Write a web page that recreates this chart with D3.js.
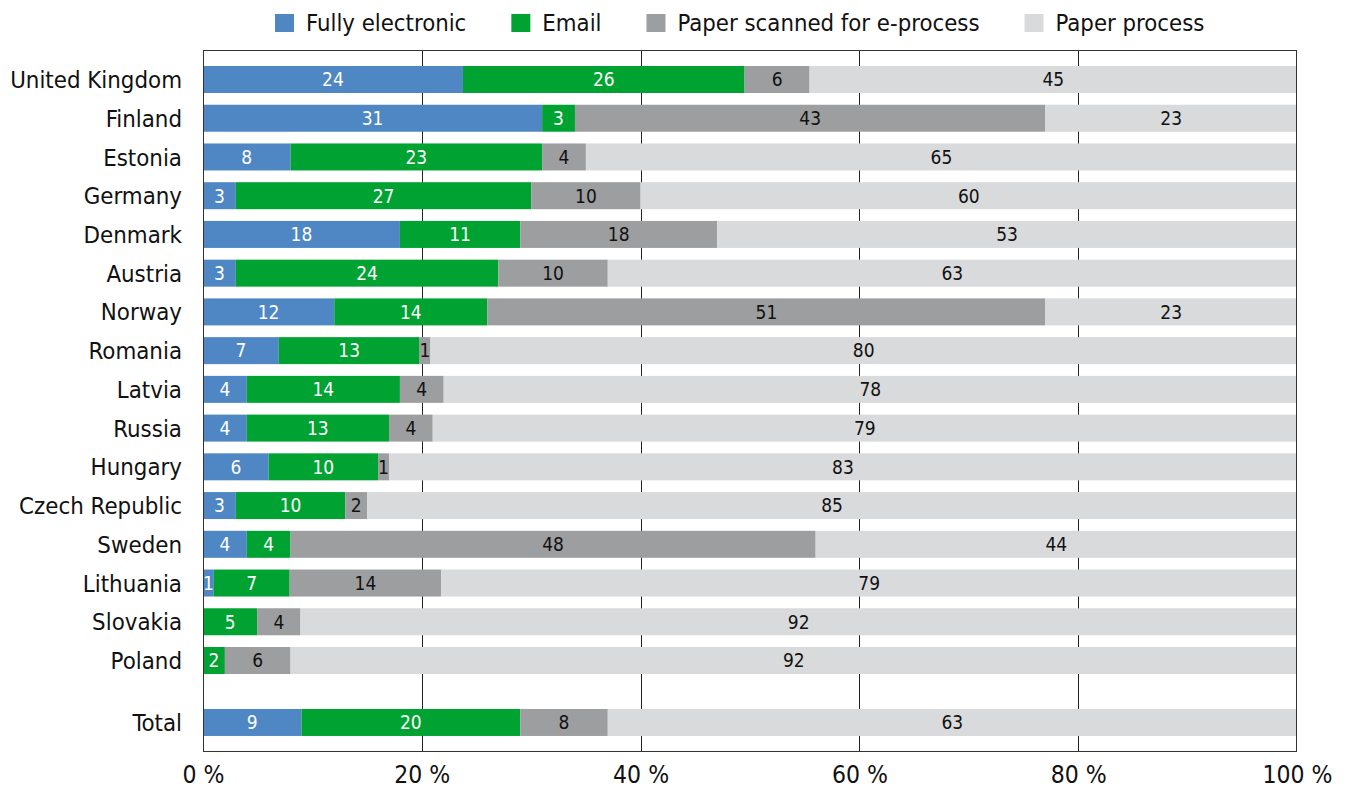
<!DOCTYPE html>
<html>
<head>
<meta charset="utf-8">
<script src="https://cdn.jsdelivr.net/npm/d3@7"></script>
<style>
  html, body { margin: 0; padding: 0; background: #fff; }
  svg { display: block; }
  text { font-family: "Liberation Sans Narrow", "Arial Narrow", "DejaVu Sans Condensed", sans-serif; }
</style>
</head>
<body>
<svg id="chart" width="1346" height="791"></svg>
<script>
// Share of invoices by processing method, per country (percent)
const countries = ["United Kingdom", "Finland", "Estonia", "Germany", "Denmark", "Austria",
  "Norway", "Romania", "Latvia", "Russia", "Hungary", "Czech Republic", "Sweden",
  "Lithuania", "Slovakia", "Poland", "Total"];
const fullyElectronic = [24, 31, 8, 3, 18, 3, 12, 7, 4, 4, 6, 3, 4, 1, 0, 0, 9];
const email           = [26, 3, 23, 27, 11, 24, 14, 13, 14, 13, 10, 10, 4, 7, 5, 2, 20];
const paperScanned    = [6, 43, 4, 10, 18, 10, 51, 1, 4, 4, 1, 2, 48, 14, 4, 6, 8];
const paperProcess    = [45, 23, 65, 60, 53, 63, 23, 80, 78, 79, 83, 85, 44, 79, 92, 92, 63];
// Row slot of each bar; the total sits apart after a gap
const rowSlot = [0, 1, 2, 3, 4, 5, 6, 7, 8, 9, 10, 11, 12, 13, 14, 15, 16.6];

const seriesNames = ["Fully electronic", "Email", "Paper scanned for e-process", "Paper process"];
const seriesColors = ["#4f87c4", "#00a332", "#9d9ea0", "#d9dadc"];
const labelColors = ["#ffffff", "#ffffff", "#111111", "#111111"];
const tickValues = [0, 20, 40, 60, 80, 100];

const seriesValues = [fullyElectronic, email, paperScanned, paperProcess];

const svg = d3.select("#chart");
const plot = { left: 203, right: 1297, top: 50, bottom: 752 };
const barH = 27;

const x = d3.scaleLinear().domain([0, 100]).range([plot.left, plot.right]);
const y = d3.scaleLinear().domain([0, 15]).range([79.5, 660.5]);

// Rows: each stacked bar is normalised to 100 %
const rows = countries.map((c, i) => {
  const vals = seriesValues.map(s => s[i]);
  const sum = d3.sum(vals);
  let acc = 0;
  const segs = vals.map((v, k) => {
    const x0 = acc / sum * 100;
    acc += v;
    return { k, v, x0, x1: acc / sum * 100 };
  });
  return { name: c, slot: rowSlot[i], segs };
});

// Gridlines
svg.append("g").selectAll("line")
  .data(tickValues.slice(1, -1))
  .join("line")
  .attr("x1", d => Math.round(x(d)) + 0.5).attr("x2", d => Math.round(x(d)) + 0.5)
  .attr("y1", plot.top).attr("y2", plot.bottom)
  .attr("stroke", "#222").attr("stroke-width", 1);

// Bars
const rowG = svg.append("g").selectAll("g")
  .data(rows)
  .join("g")
  .attr("transform", d => `translate(0,${y(d.slot)})`);

rowG.selectAll("rect")
  .data(d => d.segs.filter(s => s.v > 0))
  .join("rect")
  .attr("x", s => x(s.x0))
  .attr("width", s => x(s.x1) - x(s.x0))
  .attr("y", -barH / 2)
  .attr("height", barH)
  .attr("fill", s => seriesColors[s.k]);

rowG.selectAll("text.val")
  .data(d => d.segs.filter(s => s.v > 0))
  .join("text")
  .attr("class", "val")
  .attr("x", s => (x(s.x0) + x(s.x1)) / 2)
  .attr("y", 0)
  .attr("dy", "0.36em")
  .attr("text-anchor", "middle")
  .attr("font-size", 19)
  .attr("fill", s => labelColors[s.k])
  .text(s => s.v);

// Country labels
rowG.append("text")
  .attr("x", plot.left - 21)
  .attr("y", 0)
  .attr("dy", "0.36em")
  .attr("text-anchor", "end")
  .attr("font-size", 23.8)
  .attr("fill", "#111")
  .text(d => d.name);

// Frame
svg.append("rect")
  .attr("x", plot.left + 0.5).attr("y", plot.top + 0.5)
  .attr("width", plot.right - plot.left - 1).attr("height", plot.bottom - plot.top - 1)
  .attr("fill", "none").attr("stroke", "#333").attr("stroke-width", 1);

// X axis
const xAxis = d3.axisBottom(x)
  .tickValues(tickValues)
  .tickSize(0)
  .tickPadding(14)
  .tickFormat(d => d + " %");
const axG = svg.append("g")
  .attr("transform", `translate(0,${plot.bottom})`)
  .call(xAxis);
axG.select(".domain").remove();
axG.selectAll("text")
  .attr("font-size", 24.5)
  .attr("fill", "#111")
  .style("font-family", "\"Liberation Sans Narrow\", \"Arial Narrow\", \"DejaVu Sans Condensed\", sans-serif");

// Legend
const legend = svg.append("g");
let lx = 275;
seriesNames.forEach((name, k) => {
  legend.append("rect")
    .attr("x", lx).attr("y", 14).attr("width", 19).attr("height", 18)
    .attr("fill", seriesColors[k]);
  const t = legend.append("text")
    .attr("x", lx + 31).attr("y", 22).attr("dy", "0.36em")
    .attr("font-size", 23.7)
    .attr("fill", "#111")
    .text(name);
  lx += 31 + t.node().getComputedTextLength() + 45;
});
</script>
</body>
</html>
